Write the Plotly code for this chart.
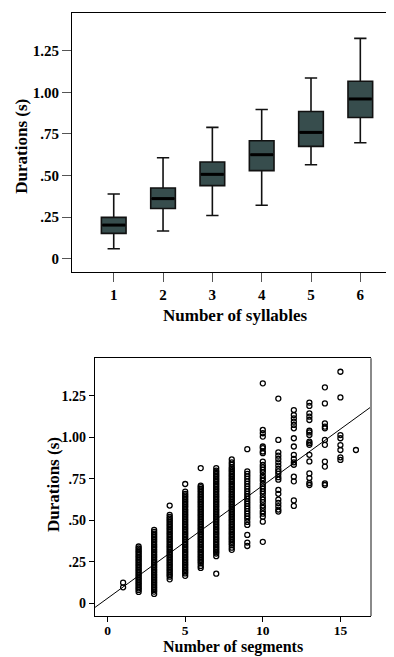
import plotly.graph_objects as go

# ---------------- Top chart: durations by number of syllables (box plot) ----------------
syllables = [1, 2, 3, 4, 5, 6]
whisker_low = [0.060, 0.166, 0.260, 0.321, 0.565, 0.697]
q1_vals = [0.152, 0.302, 0.439, 0.529, 0.675, 0.849]
median_vals = [0.202, 0.361, 0.507, 0.625, 0.759, 0.960]
q3_vals = [0.248, 0.425, 0.581, 0.709, 0.885, 1.066]
whisker_high = [0.389, 0.607, 0.789, 0.897, 1.086, 1.324]

y_tickvals = [0, 0.25, 0.5, 0.75, 1.0, 1.25]
y_ticktext = ["0", ".25", ".50", ".75", "1.00", "1.25"]
seg_tickvals = [0, 5, 10, 15]

# ---------------- Bottom chart: durations by number of segments (scatter) ----------------
seg_1 = [0.096, 0.124]
seg_2 = [0.068, 0.08, 0.09, 0.10, 0.11, 0.12, 0.13, 0.14, 0.15, 0.16, 0.17, 0.18, 0.19, 0.20,
         0.21, 0.22, 0.23, 0.24, 0.25, 0.26, 0.27, 0.28, 0.29, 0.30, 0.31, 0.32, 0.33, 0.342]
seg_3 = [0.056, 0.07, 0.08, 0.09, 0.10, 0.11, 0.12, 0.13, 0.14, 0.15, 0.16, 0.17, 0.18, 0.19,
         0.20, 0.21, 0.22, 0.23, 0.24, 0.25, 0.26, 0.27, 0.28, 0.29, 0.30, 0.31, 0.32, 0.33,
         0.34, 0.35, 0.36, 0.37, 0.38, 0.39, 0.40, 0.41, 0.42, 0.43, 0.442]
seg_4 = [0.144, 0.16, 0.17, 0.18, 0.19, 0.20, 0.21, 0.22, 0.23, 0.24, 0.25, 0.26, 0.27, 0.28,
         0.29, 0.30, 0.31, 0.32, 0.33, 0.34, 0.35, 0.36, 0.37, 0.38, 0.39, 0.40, 0.41, 0.42,
         0.43, 0.44, 0.45, 0.46, 0.47, 0.48, 0.49, 0.50, 0.51, 0.52, 0.533, 0.589]
seg_5 = [0.165, 0.18, 0.19, 0.20, 0.21, 0.22, 0.23, 0.24, 0.25, 0.26, 0.27, 0.28, 0.29, 0.30,
         0.31, 0.32, 0.33, 0.34, 0.35, 0.36, 0.37, 0.38, 0.39, 0.40, 0.41, 0.42, 0.43, 0.44,
         0.45, 0.46, 0.47, 0.48, 0.49, 0.50, 0.51, 0.52, 0.53, 0.54, 0.55, 0.56, 0.57, 0.58,
         0.59, 0.60, 0.61, 0.62, 0.63, 0.64, 0.65, 0.66, 0.673, 0.719]
seg_6 = [0.213, 0.225, 0.24, 0.25, 0.26, 0.27, 0.28, 0.29, 0.30, 0.31, 0.32, 0.33, 0.34, 0.35,
         0.36, 0.37, 0.38, 0.39, 0.40, 0.41, 0.42, 0.43, 0.44, 0.45, 0.46, 0.47, 0.48, 0.49,
         0.50, 0.51, 0.52, 0.53, 0.54, 0.55, 0.56, 0.57, 0.58, 0.59, 0.60, 0.61, 0.62, 0.63,
         0.64, 0.65, 0.66, 0.67, 0.68, 0.69, 0.70, 0.709, 0.815]
seg_7 = [0.178, 0.284, 0.30, 0.31, 0.32, 0.33, 0.34, 0.35, 0.36, 0.37, 0.38, 0.39, 0.40, 0.41,
         0.42, 0.43, 0.44, 0.45, 0.46, 0.47, 0.48, 0.49, 0.50, 0.51, 0.52, 0.53, 0.54, 0.55,
         0.56, 0.57, 0.58, 0.59, 0.60, 0.61, 0.62, 0.63, 0.64, 0.65, 0.66, 0.67, 0.68, 0.69,
         0.70, 0.71, 0.72, 0.73, 0.74, 0.75, 0.76, 0.77, 0.78, 0.79, 0.80, 0.815]
seg_8 = [0.322, 0.335, 0.35, 0.36, 0.37, 0.38, 0.39, 0.40, 0.41, 0.42, 0.43, 0.44, 0.45, 0.46,
         0.47, 0.48, 0.49, 0.50, 0.51, 0.52, 0.53, 0.54, 0.55, 0.56, 0.57, 0.58, 0.59, 0.60,
         0.61, 0.62, 0.63, 0.64, 0.65, 0.66, 0.67, 0.68, 0.69, 0.70, 0.71, 0.72, 0.73, 0.74,
         0.75, 0.76, 0.77, 0.78, 0.79, 0.80, 0.81, 0.82, 0.835, 0.85, 0.867]
seg_9 = [0.345, 0.366, 0.412, 0.472, 0.49, 0.51, 0.525, 0.54, 0.555, 0.57, 0.585, 0.60, 0.615,
         0.63, 0.645, 0.66, 0.675, 0.69, 0.705, 0.72, 0.735, 0.75, 0.765, 0.78, 0.795, 0.929]
seg_10 = [0.370, 0.492, 0.522, 0.54, 0.555, 0.575, 0.59, 0.61, 0.625, 0.64, 0.66, 0.675, 0.69,
          0.705, 0.72, 0.74, 0.755, 0.77, 0.79, 0.805, 0.82, 0.834, 0.854, 0.905, 0.915, 0.935,
          0.945, 1.005, 1.025, 1.045, 1.326]
seg_11 = [0.553, 0.565, 0.585, 0.605, 0.625, 0.66, 0.683, 0.745, 0.76, 0.78, 0.795, 0.81,
          0.83, 0.85, 0.87, 0.89, 0.91, 0.985, 1.234]
seg_12 = [0.587, 0.62, 0.735, 0.763, 0.835, 0.85, 0.87, 0.895, 0.945, 0.995, 1.055, 1.075,
          1.095, 1.115, 1.135, 1.165]
seg_13 = [0.713, 0.725, 0.755, 0.783, 0.855, 0.895, 0.955, 0.965, 0.975, 1.015, 1.03, 1.04,
          1.105, 1.125, 1.145, 1.19, 1.21]
seg_14 = [0.713, 0.723, 0.824, 0.854, 0.955, 0.985, 1.055, 1.065, 1.085, 1.205, 1.302]
seg_15 = [0.864, 0.88, 0.924, 0.954, 0.995, 1.014, 1.241, 1.396]
seg_16 = [0.924]

segment_counts = list(range(1, 17))
segment_durations = [seg_1, seg_2, seg_3, seg_4, seg_5, seg_6, seg_7, seg_8,
                     seg_9, seg_10, seg_11, seg_12, seg_13, seg_14, seg_15, seg_16]

# linear fit
fit_intercept = 0.030
fit_slope = 0.068

# ---------------- styling constants ----------------
# the page body has an 8px margin, so the figure is laid out in page px minus 8
OFF = 8
W, H = 394 - OFF, 657 - OFF
FONT = "Liberation Serif"
BOX_FILL = "#374d4d"
BOX_WIDTH = 0.5

top_x_range = [0.154, 6.683]
top_y_range = [-0.080, 1.4766]
bot_x_range = [-0.83, 16.97]
bot_y_range = [-0.077, 1.477]


def px_x(v):
    return (v - OFF) / W


def px_y(v):
    return 1 - (v - OFF) / H


fig = go.Figure()

# box plot
fig.add_trace(go.Box(
    x=syllables, q1=q1_vals, median=median_vals, q3=q3_vals,
    lowerfence=whisker_low, upperfence=whisker_high,
    fillcolor=BOX_FILL, line=dict(color="#111111", width=1.6),
    width=BOX_WIDTH, whiskerwidth=0.5, boxpoints=False,
    xaxis="x", yaxis="y", showlegend=False, hoverinfo="skip",
))

# thick median lines
mx, my = [], []
for s, m in zip(syllables, median_vals):
    mx += [s - BOX_WIDTH / 2 + 0.02, s + BOX_WIDTH / 2 - 0.02, None]
    my += [m, m, None]
fig.add_trace(go.Scatter(x=mx, y=my, mode="lines", line=dict(color="black", width=3),
                         xaxis="x", yaxis="y", showlegend=False, hoverinfo="skip"))

# scatter
sx, sy = [], []
for n, vals in zip(segment_counts, segment_durations):
    sx += [n] * len(vals)
    sy += vals
fig.add_trace(go.Scatter(
    x=sx, y=sy, mode="markers",
    marker=dict(symbol="circle-open", size=5, color="black", line=dict(width=1.3)),
    xaxis="x2", yaxis="y2", showlegend=False, hoverinfo="skip",
))

# fit line
fx = bot_x_range
fy = [fit_intercept + fit_slope * v for v in fx]
fig.add_trace(go.Scatter(x=fx, y=fy, mode="lines", line=dict(color="black", width=1),
                         xaxis="x2", yaxis="y2", showlegend=False, hoverinfo="skip"))

tick_font_top = dict(family=FONT, size=15, color="black", weight="bold")
tick_font_bot = dict(family=FONT, size=14, color="black", weight="bold")
tick_font_bot_x = dict(family=FONT, size=13.5, color="black", weight="bold")

common = dict(showgrid=False, zeroline=False, showline=True, linecolor="black", linewidth=1,
              ticks="outside", fixedrange=True)

fig.update_layout(
    width=W, height=H,
    margin=dict(l=0, r=0, t=0, b=0),
    paper_bgcolor="white", plot_bgcolor="white",
    showlegend=False,
    font=dict(family=FONT, color="black"),
    xaxis=dict(domain=[px_x(72), 1.0], anchor="y", range=top_x_range, tickvals=syllables,
               ticklen=9, tickcolor="#555555", tickfont=tick_font_top, mirror=True, **common),
    yaxis=dict(domain=[px_y(272), px_y(13)], anchor="x", range=top_y_range,
               tickvals=y_tickvals, ticktext=y_ticktext, ticklen=9, tickcolor="#555555",
               tickfont=tick_font_top, mirror=False, **common),
    xaxis2=dict(domain=[px_x(94.7), px_x(371)], anchor="y2", range=bot_x_range,
                tickvals=seg_tickvals, ticklen=5, tickcolor="black", ticklabelstandoff=-3,
                tickfont=tick_font_bot_x, mirror=True, **common),
    yaxis2=dict(domain=[px_y(616), px_y(358.3)], anchor="x2", range=bot_y_range,
                tickvals=y_tickvals, ticktext=y_ticktext, ticklen=5, tickcolor="black",
                tickfont=tick_font_bot, mirror=False, **common),
    shapes=[dict(type="line", xref="x2 domain", yref="y2 domain", x0=1, x1=1, y0=0, y1=1,
                 line=dict(color="#8a8a8a", width=2))],
)

title_font = dict(family=FONT, size=17, color="black", weight="bold")
fig.add_annotation(text="Durations (s)", textangle=-90, xref="paper", yref="paper",
                   x=px_x(20.7), y=px_y(146), showarrow=False, font=title_font,
                   xanchor="center", yanchor="middle")
fig.add_annotation(text="Number of syllables", xref="paper", yref="paper",
                   x=px_x(235.8), y=px_y(315), showarrow=False, font=title_font,
                   xanchor="center", yanchor="middle")
fig.add_annotation(text="Durations (s)", textangle=-90, xref="paper", yref="paper",
                   x=px_x(53), y=px_y(485), showarrow=False, font=title_font,
                   xanchor="center", yanchor="middle")
fig.add_annotation(text="Number of segments", xref="paper", yref="paper",
                   x=px_x(232.8), y=px_y(657), showarrow=False,
                   font=dict(family=FONT, size=16, color="black", weight="bold"),
                   xanchor="center", yanchor="bottom", borderpad=0)

fig.write_html("out.html")
